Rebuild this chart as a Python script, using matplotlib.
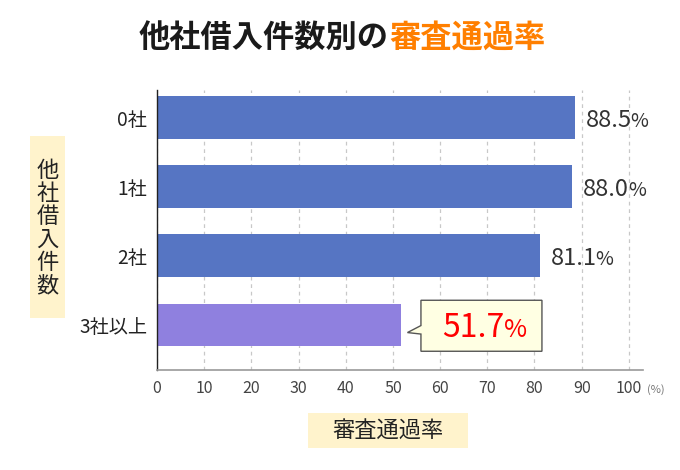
import matplotlib
matplotlib.use('Agg')
import matplotlib.pyplot as plt
from matplotlib.patches import Rectangle, Polygon
from matplotlib.transforms import IdentityTransform

plt.rcParams['font.family'] = ['Noto Sans CJK JP', 'DejaVu Sans']

categories = ['0社', '1社', '2社', '3社以上']
rates = [88.5, 88.0, 81.1, 51.7]
bar_colors = ['#5675C3', '#5675C3', '#5675C3', '#8F80DF']
xticks = [0, 10, 20, 30, 40, 50, 60, 70, 80, 90, 100]
title_black = '他社借入件数別の'
title_orange = '審査通過率'
ylabel_text = '他社借入件数'
xlabel_text = '審査通過率'

W, H = 680, 470
fig = plt.figure(figsize=(W / 100, H / 100), dpi=100)
fig.patch.set_facecolor('white')


def fx(px):
    return px / W


def fy(py):
    return 1 - py / H


ax = fig.add_axes([fx(157), fy(370), (643 - 157) / W, (370 - 90) / H])
ypos = list(range(len(categories)))
ax.barh(ypos, rates, height=0.62, color=bar_colors, zorder=2)
ax.set_xlim(0, 103)
ax.set_ylim(3.65, -0.40)
ax.set_yticks(ypos)
ax.set_yticklabels(categories, fontsize=13.8, color='#222222')
ax.set_xticks(xticks)
ax.set_xticklabels([str(t) for t in xticks], fontsize=11.5, color='#444444')
ax.tick_params(axis='both', length=0)
ax.tick_params(axis='y', pad=7)
ax.tick_params(axis='x', pad=7)
ax.set_axisbelow(True)
ax.xaxis.grid(True, linestyle=(0, (3, 3)), color='#c8c8c8', lw=0.9)
for s in ['top', 'right']:
    ax.spines[s].set_visible(False)
ax.spines['left'].set_color('#222222')
ax.spines['left'].set_linewidth(1.0)
ax.spines['bottom'].set_color('#999999')
ax.spines['bottom'].set_linewidth(1.2)

fig.text(fx(647), fy(390), '(%)', fontsize=8, color='#777777', ha='left', va='center')

fig.canvas.draw()
r = fig.canvas.get_renderer()

# value labels for first three bars
for i, v in enumerate(rates[:3]):
    t = ax.annotate(f'{v:.1f}', xy=(v, i), xytext=(8, -6.6), textcoords='offset points',
                    ha='left', va='baseline', fontsize=17, color='#333333')
    bb = t.get_window_extent(r)
    ax.annotate('%', xy=(v, i), xytext=(8 + bb.width * 0.72 - 0.8, -6.6), textcoords='offset points',
                ha='left', va='baseline', fontsize=14, color='#333333')

# callout for last bar
axp, ayp = ax.transData.transform((rates[3], 3))
offs = [(20, -24.8), (141, -24.8), (141, 26.2), (20, 26.2), (20, 9.0), (6.5, 7.5), (20, 0.5)]
verts = [(axp + dx, ayp - dy) for dx, dy in offs]
poly = Polygon(verts, closed=True, facecolor='#FFFFE3', edgecolor='#555555', lw=1.0,
               transform=IdentityTransform(), zorder=5)
fig.add_artist(poly)
t = fig.text(axp + 41, ayp - 11.5, f'{rates[3]:.1f}', fontsize=23, color='#FF0000',
             ha='left', va='baseline', transform=IdentityTransform(), zorder=6)
bb = t.get_window_extent(r)
fig.text(bb.x1 - 0.5, ayp - 11.5, '%', fontsize=18, color='#FF0000',
         ha='left', va='baseline', transform=IdentityTransform(), zorder=6)

# title in two colours
t1 = fig.text(0, fy(38), title_black, fontsize=22.5, fontweight='bold', color='#1a1a1a',
              ha='left', va='center')
t2 = fig.text(0, fy(38), title_orange, fontsize=22.5, fontweight='bold', color='#FF7F00',
              ha='left', va='center')
w1 = t1.get_window_extent(r).width
w2 = t2.get_window_extent(r).width
x0 = 342 - (w1 + w2) / 2
t1.set_x(fx(x0))
t2.set_x(fx(x0 + w1))

# y label box
fig.add_artist(Rectangle((fx(30), fy(318)), (65 - 30) / W, (318 - 136) / H,
                         transform=fig.transFigure, facecolor='#FFF3CC', edgecolor='none'))
fig.text(fx(47.5), fy(228), '\n'.join(ylabel_text), fontsize=16, color='#222222',
         ha='center', va='center', linespacing=1.0)

# x label box
fig.add_artist(Rectangle((fx(308), fy(448)), (468 - 308) / W, (448 - 413) / H,
                         transform=fig.transFigure, facecolor='#FFF3CC', edgecolor='none'))
fig.text(fx(388), fy(431), xlabel_text, fontsize=16, color='#222222', ha='center', va='center')

fig.savefig('out.png', dpi=100)
